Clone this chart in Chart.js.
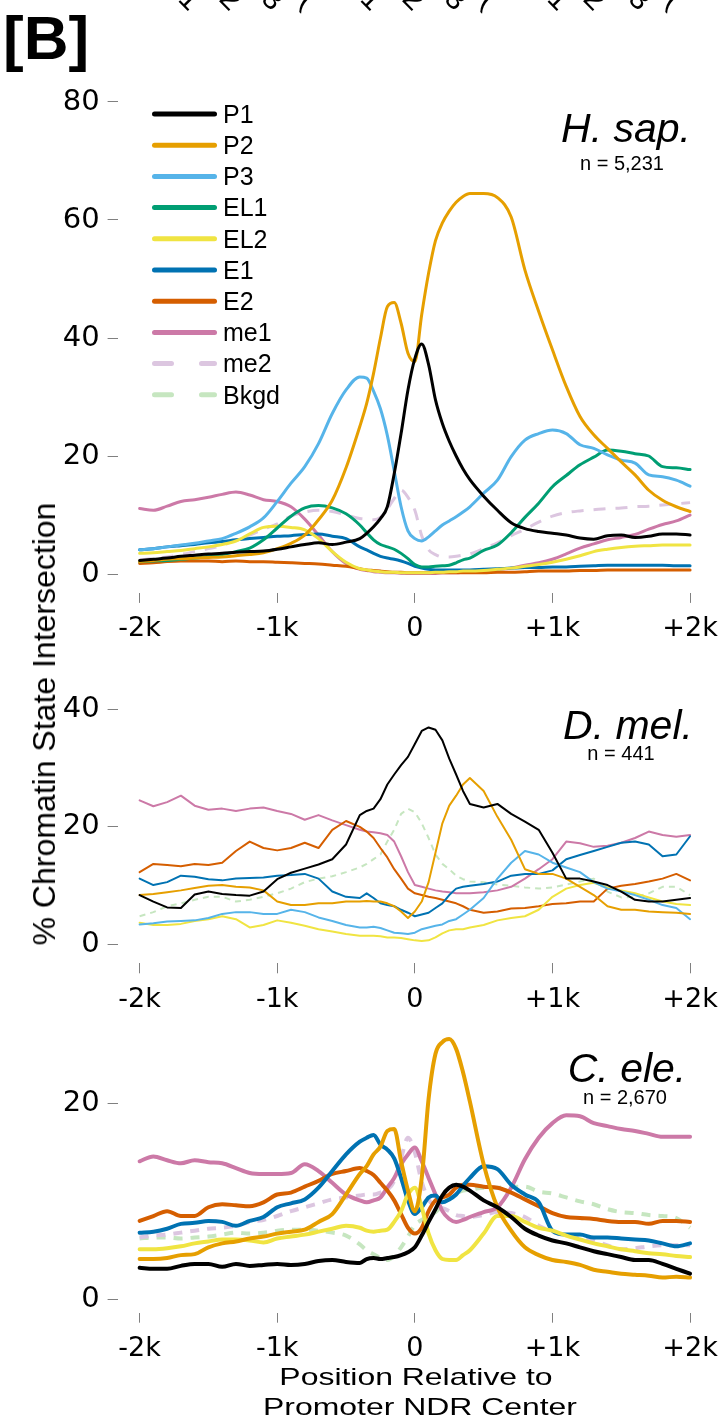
<!DOCTYPE html>
<html><head><meta charset="utf-8">
<script src="https://cdn.jsdelivr.net/npm/chart.js"></script>
<style>
html,body{margin:0;padding:0;background:#fff;}
body{width:728px;height:1426px;position:relative;overflow:hidden;font-family:"Liberation Sans",Arial,sans-serif;color:#000;}
canvas{position:absolute;left:0;}
.t{position:absolute;line-height:1;white-space:nowrap;}
.c{text-align:center;width:300px;}
.g{position:absolute;font-size:30px;line-height:1;transform:translate(-50%,-50%) rotate(45deg);}
</style></head><body>
<canvas id="c1" width="728" height="665" style="top:0px"></canvas>
<canvas id="c2" width="728" height="365" style="top:665px"></canvas>
<canvas id="c3" width="728" height="370" style="top:1000px"></canvas>
<div id="hdr"></div>
<div class="t" style="left:3px;top:7px;font-size:62px;font-weight:bold;">[B]</div>
<div class="t c" style="left:476px;top:108px;font-size:41px;font-style:italic;">H. sap.</div>
<div class="t c" style="left:472px;top:153px;font-size:20px;">n = 5,231</div>
<div class="t c" style="left:478px;top:705px;font-size:41px;font-style:italic;">D. mel.</div>
<div class="t c" style="left:471px;top:743px;font-size:20px;">n = 441</div>
<div class="t c" style="left:477px;top:1048px;font-size:41px;font-style:italic;">C. ele.</div>
<div class="t c" style="left:475px;top:1087px;font-size:20px;">n = 2,670</div>
<div class="t" style="left:44px;top:724px;font-size:32px;transform:translate(-50%,-50%) rotate(-90deg);">% Chromatin State Intersection</div>
<div class="t" style="left:416px;top:1365px;font-size:24px;transform:translateX(-50%) scaleX(1.33);">Position Relative to</div>
<div class="t" style="left:420px;top:1395px;font-size:24px;transform:translateX(-50%) scaleX(1.33);">Promoter NDR Center</div>
<div id="legend"></div>
<script>
// ---- data ----
const positions = [-2000,-1900,-1800,-1700,-1600,-1500,-1400,-1300,-1200,-1100,-1000,-900,-800,-700,-600,-500,-400,
  -350,-300,-250,-200,-150,-100,-50,0,50,100,150,200,250,300,350,400,
  500,600,700,800,900,1000,1100,1200,1300,1400,1500,1600,1700,1800,1900,2000];
const xTickValues = [-2000,-1000,0,1000,2000];
const xTickLabels = ['-2k','-1k','0','+1k','+2k'];
const sapYTicks = [0,20,40,60,80];
const dmelYTicks = [0,20,40];
const celeYTicks = [0,20];
const seriesNames = ['P1','P2','P3','EL1','EL2','E1','E2','me1','me2','Bkgd'];
const seriesColors = ['#000000','#E69F00','#56B4E9','#009E73','#F0E442','#0072B2','#D55E00','#CC79A7','#DCC6E0','#C6E6C0'];
const seriesDashed = [false,false,false,false,false,false,false,false,true,true];

// H. sapiens
const sapP1 = [2.3,2.5,2.7,3.0,3.2,3.4,3.5,3.7,3.8,3.9,4.2,4.6,5.0,5.3,5.0,5.4,6.0,
  6.9,8.0,9.4,11.4,17.0,23.8,31.2,36.5,39.0,35.5,29.5,25.5,22.5,20.0,17.8,16.0,
  13.2,10.8,8.7,7.7,7.2,6.9,6.6,6.1,5.9,6.5,6.6,6.2,6.4,6.8,6.8,6.6];
const sapP2 = [2.1,2.3,2.5,2.6,2.7,2.8,2.9,3.1,3.3,3.6,4.3,5.2,6.6,9.2,12.5,18.0,25.0,
  28.9,34.0,40.0,45.3,46.0,42.5,37.4,36.0,44.0,51.0,56.5,59.5,61.5,63.0,64.0,64.5,
  64.5,63.8,60.5,51.5,44.5,38.0,31.8,26.7,23.6,21.3,19.0,16.8,14.2,12.5,11.4,10.6];
const sapP3 = [4.1,4.3,4.6,4.9,5.2,5.6,6.0,6.9,8.0,9.5,12.3,15.4,18.2,22.1,27.2,31.2,33.4,
  33.2,31.0,28.0,23.5,17.5,11.4,7.3,6.0,5.6,6.3,7.3,8.3,9.0,9.7,10.5,11.4,
  13.7,15.9,19.9,22.7,23.8,24.4,23.8,21.9,21.3,20.2,19.3,18.8,16.8,16.5,15.9,14.9];
const sapEL1 = [2.1,2.2,2.3,2.5,2.7,3.0,3.3,3.8,4.4,5.8,7.8,9.8,11.2,11.6,11.2,10.2,8.3,
  7.0,5.8,5.0,4.6,4.2,3.5,2.6,1.6,1.2,1.2,1.3,1.4,1.5,1.9,2.4,2.7,
  4.0,4.9,7.0,9.6,12.0,14.8,16.7,18.5,19.8,21.0,20.8,20.4,20.0,18.2,18.0,17.7];
const sapEL2 = [3.5,3.6,3.8,4.0,4.3,4.6,5.0,5.6,6.8,7.9,8.1,7.9,7.5,6.0,3.8,2.0,0.9,
  0.7,0.5,0.4,0.3,0.3,0.2,0.2,0.2,0.2,0.2,0.3,0.3,0.4,0.4,0.5,0.5,
  0.6,0.8,1.0,1.3,1.6,2.0,2.5,3.1,3.8,4.2,4.5,4.7,4.8,4.9,4.9,4.9];
const sapE1 = [4.1,4.3,4.6,4.8,5.0,5.3,5.5,5.8,6.0,6.2,6.4,6.5,6.7,6.8,6.4,6.0,4.6,
  4.1,3.5,3.0,2.7,2.5,2.2,1.8,1.3,1.0,0.8,0.7,0.7,0.7,0.7,0.7,0.7,
  0.8,0.9,1.0,1.1,1.1,1.2,1.2,1.3,1.4,1.5,1.5,1.5,1.5,1.5,1.4,1.4];
const sapE2 = [1.8,1.9,2.1,2.2,2.2,2.2,2.1,2.2,2.1,2.1,2.0,1.9,1.8,1.7,1.5,1.3,0.9,
  0.7,0.6,0.5,0.4,0.3,0.3,0.2,0.2,0.2,0.2,0.2,0.2,0.2,0.2,0.2,0.2,
  0.2,0.3,0.3,0.4,0.5,0.5,0.5,0.6,0.6,0.7,0.7,0.7,0.7,0.7,0.7,0.7];
const sapMe1 = [11.1,10.8,11.5,12.3,12.6,13.0,13.5,13.9,13.4,12.6,12.3,11.4,9.3,6.6,3.8,1.8,0.8,
  0.6,0.4,0.3,0.2,0.2,0.1,0.1,0.1,0.1,0.1,0.1,0.2,0.2,0.2,0.3,0.4,
  0.5,0.7,1.0,1.5,1.9,2.5,3.4,4.4,5.1,5.8,6.2,6.7,7.6,8.4,9.0,10.0];
const sapMe2 = [2.4,2.6,2.9,3.3,3.8,4.3,4.8,5.8,6.6,7.6,8.5,9.8,10.5,10.8,10.6,10.0,9.4,
  9.3,9.2,9.6,11.0,12.8,14.2,13.0,10.8,6.5,4.1,3.3,2.9,2.9,3.0,3.2,3.4,
  4.3,5.3,6.5,7.6,8.8,9.8,10.4,10.7,10.9,11.1,11.2,11.4,11.5,11.7,11.9,12.1];
const sapBkgd = null;

// D. melanogaster
const dmelP1 = [8.4,7.3,6.3,6.2,8.5,9.0,8.6,8.4,8.3,9.0,11.1,12.2,12.9,13.6,14.5,17.0,22.0,
  22.7,23.1,24.7,27.2,28.9,30.5,31.9,34.1,36.3,36.9,36.5,34.7,31.6,28.9,26.1,23.9,
  23.3,23.9,22.2,20.9,19.5,15.6,11.2,11.2,10.7,10.1,9.0,7.6,7.3,7.3,7.6,7.9];
const dmelP2 = [8.4,8.6,8.9,9.2,9.6,10.0,10.1,9.8,9.7,9.2,7.3,6.7,6.7,7.0,7.0,7.3,7.3,
  7.4,7.3,7.3,7.0,6.5,5.6,4.5,5.6,7.3,10.6,15.6,20.6,23.6,25.3,27.2,28.3,
  26.1,21.7,17.8,12.8,12.0,12.0,11.2,9.8,8.4,6.5,5.9,5.9,5.6,5.5,5.4,5.2];
const dmelP3 = [3.4,3.6,3.9,4.0,4.1,4.5,5.2,5.5,5.5,5.2,5.2,5.9,5.5,4.6,4.0,3.3,2.9,
  2.9,3.0,2.8,2.4,2.0,1.9,1.8,2.0,2.6,2.9,3.2,3.4,4.0,4.3,5.1,5.9,
  7.9,11.2,13.9,15.9,15.3,13.9,13.1,12.3,10.6,9.5,9.0,8.4,7.6,6.7,6.2,4.3];
const dmelEL1 = null;
const dmelEL2 = [3.7,3.3,3.3,3.5,4.0,4.3,4.8,4.3,2.9,3.3,4.1,3.7,3.2,2.6,2.2,1.8,1.5,
  1.5,1.5,1.4,1.2,1.2,1.1,0.9,0.7,0.6,0.7,1.2,1.9,2.4,2.6,2.6,2.9,
  3.3,4.1,4.5,4.8,5.9,8.1,9.5,10.1,10.5,9.7,9.2,8.7,8.0,7.3,6.9,6.7];
const dmelE1 = [11.2,10.1,10.6,11.7,11.5,11.1,10.9,11.2,11.3,11.4,11.7,11.8,12.0,11.2,9.0,8.1,7.9,
  8.7,7.9,7.0,6.7,6.5,5.9,5.4,4.8,5.1,5.4,6.2,7.0,8.4,9.5,9.8,10.0,
  10.3,10.7,11.7,12.0,12.0,12.6,14.5,15.2,15.9,16.6,17.3,17.5,17.0,15.0,15.3,18.4];
const dmelE2 = [12.3,13.7,13.5,13.3,13.7,13.5,13.9,15.9,17.5,16.4,16.0,16.4,17.3,16.4,19.5,21.0,20.0,
  19.2,18.1,16.4,14.8,12.8,11.2,9.5,8.7,8.4,8.1,7.9,7.6,7.3,7.0,6.5,5.9,
  5.4,5.6,6.1,6.2,6.5,6.9,7.0,7.3,7.3,9.5,10.0,10.3,10.7,11.2,12.0,10.9];
const dmelMe1 = [24.5,23.5,24.2,25.3,23.6,22.9,23.1,22.7,23.1,23.3,22.7,22.2,21.2,22.0,21.1,20.3,19.5,
  19.2,19.1,18.9,18.6,17.5,15.0,12.3,10.1,9.8,9.5,9.2,9.0,8.9,8.7,8.7,8.7,
  8.9,9.2,9.8,11.2,12.8,14.5,17.5,17.2,16.6,16.8,17.3,18.1,19.2,18.6,18.3,18.6];
const dmelMe2 = null;
const dmelBkgd = [4.8,5.5,6.5,7.0,7.6,8.1,8.1,7.3,7.6,8.1,8.7,9.5,10.6,11.2,11.6,12.3,13.1,
  13.7,14.5,15.3,17.5,19.5,22.2,23.1,22.5,20.6,18.1,15.3,13.7,12.8,11.7,11.1,10.7,
  10.6,10.2,10.0,9.7,9.5,9.7,10.2,10.7,11.2,9.0,8.0,8.1,8.7,9.8,9.8,8.4];

// C. elegans
const celeP1 = [3.2,3.1,3.1,3.4,3.6,3.6,3.3,3.6,3.4,3.5,3.6,3.5,3.6,3.9,4.0,3.8,3.7,
  4.1,4.2,4.1,4.2,4.3,4.5,4.8,5.3,6.5,7.9,9.2,10.6,11.4,11.7,11.5,11.1,
  10.1,9.4,8.4,7.2,6.5,6.0,5.7,5.3,4.9,4.6,4.3,4.0,4.0,3.6,3.1,2.6];
const celeP2 = [4.1,4.1,4.2,4.5,4.6,5.3,5.7,5.9,6.2,6.4,6.7,6.9,7.1,7.9,8.7,10.7,12.8,
  13.6,14.8,15.6,17.2,17.4,14.1,11.1,9.0,12.4,20.5,25.1,26.3,26.6,25.6,23.2,20.2,
  13.8,9.4,7.0,5.3,4.5,4.0,3.8,3.5,3.0,2.8,2.6,2.5,2.4,2.2,2.3,2.2];
const celeP3 = null;
const celeEL1 = null;
const celeEL2 = [5.1,5.1,5.2,5.4,5.7,5.9,6.1,6.1,6.0,5.8,6.2,6.4,6.6,6.9,7.2,7.5,7.3,
  7.0,6.9,7.0,7.1,7.9,9.0,10.7,11.4,9.4,6.7,5.0,4.1,4.0,4.0,4.5,5.0,
  6.7,8.5,8.5,7.9,7.3,7.0,6.5,6.1,5.7,5.4,5.1,4.9,4.7,4.6,4.4,4.3];
const celeE1 = [6.8,6.9,7.2,7.7,7.8,8.0,7.9,7.5,8.0,8.4,9.4,9.8,10.2,11.4,13.1,14.8,16.1,
  16.5,16.8,15.8,15.3,14.4,12.4,10.1,8.7,9.4,10.4,10.6,9.9,10.2,10.7,11.6,12.4,
  13.6,13.3,11.7,10.7,9.9,7.0,6.6,6.6,6.3,6.3,6.2,6.1,6.0,5.7,5.4,5.7];
const celeE2 = [8.0,8.5,9.0,8.5,8.5,9.4,9.7,9.6,9.5,9.9,10.7,10.9,11.5,12.1,12.8,13.1,13.4,
  13.1,12.7,11.9,11.1,10.1,8.7,7.3,6.7,7.3,9.0,10.1,10.4,10.7,11.4,11.7,11.7,
  11.5,11.4,10.9,10.2,9.5,8.8,8.4,8.3,8.2,8.0,7.9,7.9,7.7,8.0,8.0,7.9];
const celeMe1 = [14.1,14.6,14.2,13.9,14.2,14.0,13.9,13.4,12.9,12.8,12.8,12.9,13.8,13.1,11.9,10.7,10.1,
  9.9,10.1,10.4,11.4,12.4,13.8,14.8,15.5,14.1,12.4,10.7,9.0,8.2,7.9,8.1,8.4,
  8.9,9.4,11.4,14.3,16.5,18.0,18.8,18.7,18.0,17.7,17.4,17.2,16.9,16.6,16.6,16.6];
const celeMe2 = [6.3,6.5,6.6,6.8,7.0,7.2,7.3,7.5,7.9,8.1,8.5,9.0,9.4,9.8,10.2,10.4,10.6,
  10.7,10.7,10.9,11.2,12.1,14.4,16.5,15.0,12.0,10.2,9.5,9.3,9.0,8.6,8.5,8.4,
  8.6,8.9,8.8,8.4,7.5,6.9,6.5,6.3,6.0,5.5,5.1,5.2,5.4,5.5,5.5,5.5];
const celeBkgd = [6.2,6.3,6.3,6.2,6.3,6.4,6.6,6.8,6.7,6.8,7.0,7.1,7.1,7.0,6.8,6.5,5.6,
  5.0,4.6,4.2,4.0,4.4,5.3,6.4,7.6,8.1,8.6,8.9,9.6,10.4,10.8,11.1,11.2,
  11.4,11.4,11.5,11.5,11.0,10.8,10.4,10.0,9.7,9.2,8.9,8.8,8.6,8.5,8.3,7.3];

// ---- drawing ----
const AREA_LEFT = 117.6, AREA_RIGHT = 722.4;
function panel(id, spec) {
  const cv = document.getElementById(id);
  const H = cv.height;
  const datasets = [];
  spec.series.forEach((vals, i) => {
    if (!vals) return;
    datasets.push({
      label: seriesNames[i],
      data: positions.map((x, j) => ({x: x, y: vals[j]})),
      borderColor: seriesColors[i],
      backgroundColor: seriesColors[i],
      borderWidth: spec.lw,
      borderDash: seriesDashed[i] ? spec.dash : [],
      borderCapStyle: seriesDashed[i] ? 'butt' : 'round',
      borderJoinStyle: 'round',
      pointRadius: 0,
      fill: false,
      tension: spec.tension,
      cubicInterpolationMode: spec.mono ? 'monotone' : 'default',
      clip: false
    });
  });
  const padTop = spec.areaTop - spec.top;
  const xh = spec.top + H - spec.areaBottom;
  new Chart(cv, {
    type: 'line',
    data: {datasets: datasets},
    options: {
      responsive: false, animation: false, devicePixelRatio: 1,
      layout: {padding: {top: padTop, right: 728 - AREA_RIGHT, left: 0, bottom: 0}},
      plugins: {legend: {display: false}, tooltip: {enabled: false}},
      scales: {
        x: {
          type: 'linear', min: -2160, max: 2160,
          afterBuildTicks: s => { s.ticks = xTickValues.map(v => ({value: v})); },
          afterFit: s => { s.height = xh; },
          ticks: {callback: v => xTickLabels[xTickValues.indexOf(v)], font: {family: 'DejaVu Sans', size: 27}, color: '#000', padding: 10, maxRotation: 0, autoSkip: false},
          grid: {drawOnChartArea: false, drawTicks: true, tickLength: 10, color: '#808080', tickColor: '#808080', lineWidth: 1},
          border: {display: false}
        },
        y: {
          type: 'linear', min: spec.yMin, max: spec.yMax,
          afterBuildTicks: s => { s.ticks = spec.yTicks.map(v => ({value: v})); },
          afterFit: s => { s.width = AREA_LEFT; },
          ticks: {font: {family: 'DejaVu Sans', size: 29}, color: '#000', padding: 8},
          grid: {drawOnChartArea: false, drawTicks: true, tickLength: 10, color: '#808080', tickColor: '#808080', lineWidth: 1},
          border: {display: false}
        }
      }
    }
  });
}

panel('c1', {top: 0, areaTop: 83.1, areaBottom: 592.9, yMin: -3.2, yMax: 83.2, yTicks: sapYTicks,
  lw: 3, dash: [12, 10], tension: 0.4, mono: true,
  series: [sapP1, sapP2, sapP3, sapEL1, sapEL2, sapE1, sapE2, sapMe1, sapMe2, sapBkgd]});
panel('c2', {top: 665, areaTop: 683.7, areaBottom: 963.3, yMin: -3.2, yMax: 43.2, yTicks: dmelYTicks,
  lw: 2, dash: [6, 5], tension: 0, mono: false,
  series: [dmelP1, dmelP2, dmelP3, dmelEL1, dmelEL2, dmelE1, dmelE2, dmelMe1, dmelMe2, dmelBkgd]});
panel('c3', {top: 1000, areaTop: 1023.2, areaBottom: 1312.7, yMin: -1.39, yMax: 28, yTicks: celeYTicks,
  lw: 4, dash: [9, 8], tension: 0.4, mono: true,
  series: [celeP1, celeP2, celeP3, celeEL1, celeEL2, celeE1, celeE2, celeMe1, celeMe2, celeBkgd]});

// legend (HTML, generated from the series lists)
(function () {
  const box = document.getElementById('legend');
  const ns = 'http://www.w3.org/2000/svg';
  const svg = document.createElementNS(ns, 'svg');
  svg.setAttribute('width', '100'); svg.setAttribute('height', '340');
  svg.style.position = 'absolute'; svg.style.left = '140px'; svg.style.top = '90px';
  seriesNames.forEach((name, i) => {
    const cy = 114 + 31.2 * i;
    const ln = document.createElementNS(ns, 'line');
    ln.setAttribute('x1', 154.5 - 140); ln.setAttribute('x2', 214.5 - 140);
    ln.setAttribute('y1', cy - 90); ln.setAttribute('y2', cy - 90);
    ln.setAttribute('stroke', seriesColors[i]); ln.setAttribute('stroke-width', '5');
    ln.setAttribute('stroke-linecap', 'round');
    if (seriesDashed[i]) ln.setAttribute('stroke-dasharray', '17 30');
    svg.appendChild(ln);
    const t = document.createElement('div');
    t.className = 't'; t.textContent = name;
    t.style.fontSize = '25px'; t.style.left = '223px';
    t.style.top = (cy + 9 - 0.8465 * 25) + 'px';
    box.appendChild(t);
  });
  box.appendChild(svg);
  // clipped rotated header glyphs
  const hdr = document.getElementById('hdr');
  const cx = [190, 231, 273, 309, 372, 414, 456, 490, 559, 595, 640, 675];
  const tx = ['1', '2', '3', '(', '1', '2', '3', '(', '1', '2', '3', '('];
  cx.forEach((x, i) => {
    const g = document.createElement('div');
    g.className = 'g'; g.textContent = tx[i];
    g.style.left = x + 'px'; g.style.top = '-1px';
    hdr.appendChild(g);
  });
})();
</script>
</body></html>
